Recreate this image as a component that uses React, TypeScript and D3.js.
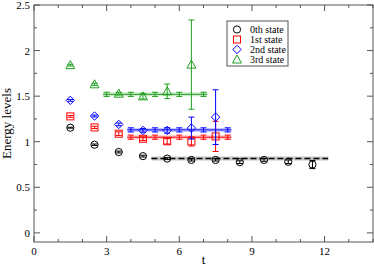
import * as d3 from "d3";

// data points at half-integer t
const tData = [1.5, 2.5, 3.5, 4.5, 5.5, 6.5, 7.5, 8.5, 9.5, 10.5, 11.5];
const state0 = [1.154, 0.967, 0.887, 0.842, 0.815, 0.8, 0.8, 0.776, 0.8, 0.78, 0.75];
const err0 = [0.005, 0.008, 0.01, 0.01, 0.01, 0.012, 0.012, 0.015, 0.015, 0.02, 0.045];
const state1 = [1.278, 1.157, 1.088, 1.033, 1.005, 1.003, 1.058];
const err1 = [0.01, 0.012, 0.02, 0.02, 0.03, 0.05, 0.165];
const state2 = [1.454, 1.282, 1.19, 1.124, 1.124, 1.15, 1.27];
const err2 = [0.01, 0.01, 0.015, 0.02, 0.03, 0.12, 0.3];
const state3 = [1.84, 1.63, 1.527, 1.498, 1.553, 1.846];
const err3 = [0.01, 0.012, 0.015, 0.03, 0.08, 0.49];

// plateau fits: value, t range, cap positions
const fitValues = [0.815, 1.05, 1.13, 1.52];
const fitRanges: [number, number][] = [[4.85, 12.15], [3.85, 8.15], [3.85, 8.15], [2.85, 7.15]];
const fitCaps = [[], [4, 5, 6, 7, 8], [4, 5, 6, 7, 8], [3, 4, 5, 6, 7]];
const fitErr = [0.01, 0.012, 0.012, 0.012];

const labels = ["0th state", "1st state", "2nd state", "3rd state"];
const colors = ["#000000", "#ff0000", "#0000ff", "#1fa01f"];
const shapes = ["circle", "square", "diamond", "triangle"];

const xTicks = [0, 3, 6, 9, 12];
const yTicks = [0, 0.5, 1, 1.5, 2, 2.5];

const W = 374;
const H = 266;
const m = { left: 34, right: 1, top: 5, bottom: 24 };
const font = "'Liberation Serif', 'DejaVu Serif', 'Times New Roman', serif";

function Marker({ shape, x, y, color }: { shape: string; x: number; y: number; color: string }) {
  const p = { fill: "none", stroke: color, strokeWidth: 1 };
  if (shape === "circle") return <circle cx={x} cy={y} r={3.6} {...p} />;
  if (shape === "square") return <rect x={x - 3.5} y={y - 3.5} width={7} height={7} {...p} />;
  if (shape === "diamond")
    return <path d={`M${x},${y - 4.2}L${x + 4.2},${y}L${x},${y + 4.2}L${x - 4.2},${y}Z`} {...p} />;
  return <path d={`M${x},${y - 4.5}L${x + 4.5},${y + 3.5}L${x - 4.5},${y + 3.5}Z`} {...p} />;
}

export default function App() {
  const x = d3.scaleLinear().domain([0, 14]).range([m.left, W - m.right]);
  const y = d3.scaleLinear().domain([-0.1, 2.5]).range([H - m.bottom, m.top]);
  const series = [
    { v: state0, e: err0 },
    { v: state1, e: err1 },
    { v: state2, e: err2 },
    { v: state3, e: err3 },
  ];
  const xMinor = d3.range(0, 15, 1);
  const yMinor = d3.range(0, 2.51, 0.25);
  const frame = "#555";
  const x0 = m.left, x1 = W - m.right, y0 = m.top, y1 = H - m.bottom;
  const ts = { fontFamily: font };

  return (
    <div style={{ position: "absolute", left: 0, top: 0 }}>
      <svg width={W} height={H} style={{ display: "block", background: "#fff", fontFamily: font }}>
        {/* fits */}
        {fitValues.map((fv, i) => {
          const [a, b] = fitRanges[i];
          const c = colors[i];
          return (
            <g key={"fit" + i}>
              <line x1={x(a)} x2={x(b)} y1={y(fv)} y2={y(fv)} stroke={c} strokeOpacity={0.22} strokeWidth={4} />
              <line
                x1={x(a)} x2={x(b)} y1={y(fv)} y2={y(fv)}
                stroke={c} strokeWidth={i === 0 ? 1.5 : 1}
                strokeDasharray={i === 0 ? "6,3" : undefined}
              />
              {fitCaps[i].map((t) => (
                <g key={t} stroke={c} strokeWidth={1}>
                  <line x1={x(t)} x2={x(t)} y1={y(fv - fitErr[i]) + 1} y2={y(fv + fitErr[i]) - 1} />
                  <line x1={x(t) - 3} x2={x(t) + 3} y1={y(fv - fitErr[i]) + 1} y2={y(fv - fitErr[i]) + 1} />
                  <line x1={x(t) - 3} x2={x(t) + 3} y1={y(fv + fitErr[i]) - 1} y2={y(fv + fitErr[i]) - 1} />
                </g>
              ))}
            </g>
          );
        })}
        {/* data */}
        {series.map((s, i) => (
          <g key={"s" + i}>
            {s.v.map((v, j) => {
              const cx = x(tData[j]);
              const lo = y(v - s.e[j]);
              const hi = y(v + s.e[j]);
              return (
                <g key={j}>
                  <g stroke={colors[i]} strokeWidth={1}>
                    <line x1={cx} x2={cx} y1={lo} y2={hi} />
                    <line x1={cx - 3} x2={cx + 3} y1={lo} y2={lo} />
                    <line x1={cx - 3} x2={cx + 3} y1={hi} y2={hi} />
                  </g>
                  <Marker shape={shapes[i]} x={cx} y={y(v)} color={colors[i]} />
                </g>
              );
            })}
          </g>
        ))}
        {/* frame and ticks */}
        <rect x={x0} y={y0} width={x1 - x0} height={y1 - y0} fill="none" stroke={frame} strokeWidth={1} />
        {xMinor.map((t) => {
          const len = t % 3 === 0 ? 6 : 3;
          return (
            <g key={"xt" + t} stroke={frame}>
              <line x1={x(t)} x2={x(t)} y1={y1} y2={y1 - len} />
              <line x1={x(t)} x2={x(t)} y1={y0} y2={y0 + len} />
            </g>
          );
        })}
        {yMinor.map((t) => {
          const len = Math.abs(t * 2 - Math.round(t * 2)) < 1e-6 ? 6 : 3;
          return (
            <g key={"yt" + t} stroke={frame}>
              <line x1={x0} x2={x0 + len} y1={y(t)} y2={y(t)} />
              <line x1={x1} x2={x1 - len} y1={y(t)} y2={y(t)} />
            </g>
          );
        })}
        {xTicks.map((t) => (
          <text key={"xl" + t} x={x(t)} y={y1 + 13} fontSize={11} textAnchor="middle" style={ts}>
            {t}
          </text>
        ))}
        {yTicks.map((t) => (
          <text key={"yl" + t} x={x0 - 4} y={y(t) + 4} fontSize={11} textAnchor="end" style={ts}>
            {t}
          </text>
        ))}
        <text x={(x0 + x1) / 2} y={H - 2} fontSize={13} textAnchor="middle" style={ts}>t</text>
        <text transform={`translate(11,${(y0 + y1) / 2}) rotate(-90)`} fontSize={13} textAnchor="middle" style={ts}>
          Energy levels
        </text>
        {/* legend */}
        <g>
          <rect x={227} y={21} width={61} height={45} fill="#fff" stroke={frame} strokeWidth={1} />
          {labels.map((l, i) => (
            <g key={l}>
              <Marker shape={shapes[i]} x={237} y={29.5 + i * 10} color={colors[i]} />
              <text x={250} y={33 + i * 10} fontSize={10} style={ts}>{l}</text>
            </g>
          ))}
        </g>
      </svg>
    </div>
  );
}
